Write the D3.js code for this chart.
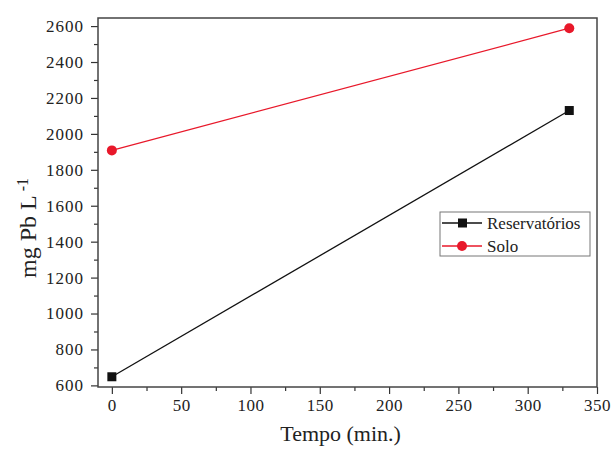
<!DOCTYPE html>
<html>
<head>
<meta charset="utf-8">
<script src="https://cdn.jsdelivr.net/npm/d3@7"></script>
<style>
  body { margin: 0; background: #fff; }
  text { font-family: "Liberation Serif", "Times New Roman", serif; fill: #222; }
</style>
</head>
<body>
<div id="vis"></div>
<script>
// data
var tempo = [0, 330];
var reservatorios = [648, 2130];
var solo = [1908, 2588];
var seriesNames = ["Reservatórios", "Solo"];
var seriesColors = ["#111111", "#e8182a"];
var xTicks = [0, 50, 100, 150, 200, 250, 300, 350];
var yTicks = [600, 800, 1000, 1200, 1400, 1600, 1800, 2000, 2200, 2400, 2600];

var margin = {top: 18, right: 15, bottom: 66, left: 98},
    width = 612 - margin.left - margin.right,
    height = 453 - margin.top - margin.bottom;

var serif = "'Liberation Serif', 'Times New Roman', serif";

var svg = d3.select("#vis").append("svg")
    .attr("width", 612)
    .attr("height", 453);

var g = svg.append("g")
    .attr("transform", "translate(" + margin.left + "," + margin.top + ")");

var x = d3.scaleLinear().domain([-10, 350]).range([0, width]);
var y = d3.scaleLinear().domain([591, 2645]).range([height, 0]);

// minor ticks
var xMinor = d3.range(25, 350, 50);
var yMinor = d3.range(700, 2600, 200);

var fmt = d3.format("d");
var xAxis = d3.axisBottom(x).tickValues(xTicks).tickFormat(fmt).tickSize(7).tickPadding(5);
var yAxis = d3.axisLeft(y).tickValues(yTicks).tickFormat(fmt).tickSize(7).tickPadding(7);

g.append("g")
  .attr("transform", "translate(0," + height + ")")
  .call(d3.axisBottom(x).tickValues(xMinor).tickSize(4).tickFormat(""))
  .call(function(a) { a.select(".domain").remove(); })
  .selectAll("line").attr("stroke", "#333").attr("stroke-width", 1.2);

g.append("g")
  .call(d3.axisLeft(y).tickValues(yMinor).tickSize(4).tickFormat(""))
  .call(function(a) { a.select(".domain").remove(); })
  .selectAll("line").attr("stroke", "#333").attr("stroke-width", 1.2);

var gx = g.append("g")
  .attr("transform", "translate(0," + height + ")")
  .call(xAxis);
gx.select(".domain").remove();
gx.selectAll("line").attr("stroke", "#333").attr("stroke-width", 1.2);
gx.selectAll("text")
  .attr("fill", "#222")
  .style("font-family", serif)
  .style("font-size", "17px")
  .style("letter-spacing", "0.5px");

var gy = g.append("g").call(yAxis);
gy.select(".domain").remove();
gy.selectAll("line").attr("stroke", "#333").attr("stroke-width", 1.2);
gy.selectAll("text")
  .attr("fill", "#222")
  .style("font-family", serif)
  .style("font-size", "17px")
  .style("letter-spacing", "1px");

// frame
g.append("rect")
  .attr("width", width)
  .attr("height", height)
  .attr("fill", "none")
  .attr("stroke", "#444")
  .attr("stroke-width", 1.5);

var series = [reservatorios, solo];
var line = d3.line()
  .x(function(d, i) { return x(tempo[i]); })
  .y(function(d) { return y(d); });

series.forEach(function(vals, s) {
  g.append("path")
    .datum(vals)
    .attr("fill", "none")
    .attr("stroke", seriesColors[s])
    .attr("stroke-width", 1.3)
    .attr("d", line);

  if (s === 0) {
    g.selectAll(".sq")
      .data(vals).enter()
      .append("rect")
      .attr("x", function(d, i) { return x(tempo[i]) - 4.5; })
      .attr("y", function(d) { return y(d) - 4.5; })
      .attr("width", 9).attr("height", 9)
      .attr("fill", seriesColors[s]);
  } else {
    g.selectAll(".dot")
      .data(vals).enter()
      .append("circle")
      .attr("cx", function(d, i) { return x(tempo[i]); })
      .attr("cy", function(d) { return y(d); })
      .attr("r", 5)
      .attr("fill", seriesColors[s]);
  }
});

// legend
var legend = svg.append("g").attr("transform", "translate(440,212)");
legend.append("rect")
  .attr("width", 150).attr("height", 44)
  .attr("fill", "#fff").attr("stroke", "#777").attr("stroke-width", 1);

seriesNames.forEach(function(name, s) {
  var ly = 11 + s * 23;
  legend.append("line")
    .attr("x1", 2).attr("x2", 42).attr("y1", ly).attr("y2", ly)
    .attr("stroke", seriesColors[s]).attr("stroke-width", 1.3);
  if (s === 0) {
    legend.append("rect").attr("x", 18).attr("y", ly - 4.5)
      .attr("width", 9).attr("height", 9).attr("fill", seriesColors[s]);
  } else {
    legend.append("circle").attr("cx", 22).attr("cy", ly).attr("r", 5)
      .attr("fill", seriesColors[s]);
  }
  legend.append("text")
    .attr("x", 47).attr("y", ly + 5.5)
    .style("font-size", "17px")
    .text(name);
});

// axis titles
svg.append("text")
  .attr("x", margin.left + x(165))
  .attr("y", 441)
  .attr("text-anchor", "middle")
  .style("font-size", "22px")
  .text("Tempo (min.)");

var yt = svg.append("text")
  .attr("transform", "translate(36,228) rotate(-90)")
  .attr("text-anchor", "middle")
  .style("font-size", "24px");
yt.append("tspan").text("mg Pb L");
yt.append("tspan").attr("dy", -8).style("font-size", "16px").text(" -1");
</script>
</body>
</html>
